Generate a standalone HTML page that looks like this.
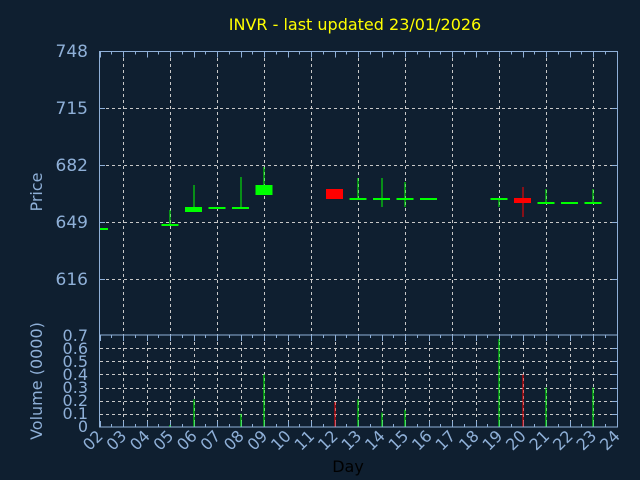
<!DOCTYPE html>
<html><head><meta charset="utf-8"><style>
html,body{margin:0;padding:0;background:#0f1f30;}
svg{display:block;font-family:"DejaVu Sans","Liberation Sans",sans-serif;}
</style></head><body>
<svg id="s" width="640" height="480" viewBox="0 0 640 480" xmlns="http://www.w3.org/2000/svg">
<rect width="640" height="480" fill="#0f1f30"/>
<g id="grid" stroke="#c8c8c8" stroke-width="1" stroke-dasharray="3,3" fill="none"></g>
<g id="ticks" stroke="#8fb0d8" stroke-width="1" fill="none"></g>
<g id="data"></g>
<rect x="99.5" y="51.5" width="518" height="283.5" fill="none" stroke="#8fb0d8"/>
<rect x="99.5" y="335" width="518" height="92" fill="none" stroke="#8fb0d8"/>
<text x="355" y="30" fill="#ffff00" font-size="16" text-anchor="middle">INVR - last updated 23/01/2026</text>
<g fill="#8fb0d8" font-size="17" text-anchor="end">
<text x="88" y="57">748</text><text x="88" y="114">715</text><text x="88" y="171">682</text><text x="88" y="228">649</text><text x="88" y="285">616</text>
</g>
<g fill="#8fb0d8" font-size="16" text-anchor="end">
<text x="88" y="341">0.7</text><text x="88" y="354">0.6</text><text x="88" y="367">0.5</text><text x="88" y="380">0.4</text><text x="88" y="393">0.3</text><text x="88" y="406">0.2</text><text x="88" y="419">0.1</text><text x="88" y="432">0</text>
</g>
<text transform="translate(42,192) rotate(-90)" fill="#8fb0d8" font-size="16" text-anchor="middle">Price</text>
<text transform="translate(42,381) rotate(-90)" fill="#8fb0d8" font-size="16" text-anchor="middle">Volume (0000)</text>
<g fill="#8fb0d8" font-size="16" text-anchor="end">
<text transform="translate(104,437) rotate(-45)">02</text>
<text transform="translate(127.5,437) rotate(-45)">03</text>
<text transform="translate(151,437) rotate(-45)">04</text>
<text transform="translate(174.5,437) rotate(-45)">05</text>
<text transform="translate(198,437) rotate(-45)">06</text>
<text transform="translate(221.5,437) rotate(-45)">07</text>
<text transform="translate(245,437) rotate(-45)">08</text>
<text transform="translate(268.5,437) rotate(-45)">09</text>
<text transform="translate(292,437) rotate(-45)">10</text>
<text transform="translate(315.5,437) rotate(-45)">11</text>
<text transform="translate(339,437) rotate(-45)">12</text>
<text transform="translate(362.5,437) rotate(-45)">13</text>
<text transform="translate(386,437) rotate(-45)">14</text>
<text transform="translate(409.5,437) rotate(-45)">15</text>
<text transform="translate(433,437) rotate(-45)">16</text>
<text transform="translate(456.5,437) rotate(-45)">17</text>
<text transform="translate(480,437) rotate(-45)">18</text>
<text transform="translate(503.5,437) rotate(-45)">19</text>
<text transform="translate(527,437) rotate(-45)">20</text>
<text transform="translate(550.5,437) rotate(-45)">21</text>
<text transform="translate(574,437) rotate(-45)">22</text>
<text transform="translate(597.5,437) rotate(-45)">23</text>
<text transform="translate(621,437) rotate(-45)">24</text>
</g>
<text x="348" y="472" fill="#000000" font-size="16" text-anchor="middle">Day</text>
</svg>
<script>
(function(){
var NS="http://www.w3.org/2000/svg";
function el(p,t,a){var e=document.createElementNS(NS,t);for(var k in a)e.setAttribute(k,a[k]);p.appendChild(e);return e;}
var g=document.getElementById("grid"),tk=document.getElementById("ticks"),d=document.getElementById("data");
function X(day){return 99.5+(day-2)*23.5;}
[108,165,222,279].forEach(function(y){el(g,"line",{x1:100,x2:617,y1:y+0.5,y2:y+0.5});el(tk,"line",{x1:99.5,x2:105,y1:y+0.5,y2:y+0.5});el(tk,"line",{x1:612,x2:617.5,y1:y+0.5,y2:y+0.5});});
for(var dd=3;dd<=23;dd+=2){var x=Math.round(X(dd))+0.5;el(g,"line",{x1:x,x2:x,y1:52,y2:335});}
[348,361,374,388,401,414].forEach(function(y){el(g,"line",{x1:100,x2:617,y1:y+0.5,y2:y+0.5});el(tk,"line",{x1:612,x2:617.5,y1:y+0.5,y2:y+0.5});});
for(var dd=3;dd<=23;dd++){var x=Math.round(X(dd))+0.5;el(g,"line",{x1:x,x2:x,y1:336,y2:427});}
for(var i=0;i<=44;i++){var x=Math.round(99.5+i*11.75)+0.5;var L=(i%2==0)?6:3;
el(tk,"line",{x1:x,x2:x,y1:51.5,y2:51.5+L});el(tk,"line",{x1:x,x2:x,y1:335,y2:335+L});el(tk,"line",{x1:x,x2:x,y1:427,y2:427-L});}
var G="#00ff00",R="#ff0000";
var c=[[2,228,230,228,230,G],[5,224,226,210,226,G],[6,207,212,185,212,G],[7,207,209,207,209,G],[8,207,209,177,209,G],
[9,185,195,167,195,G],[12,189,199,189,199,R],[13,198,200,178,200,G],[14,198,200,178,207,G],[15,198,200,182,207,G],
[16,198,200,198,200,G],[19,198,200,198,207,G],[20,198,203,187,217,R],[21,202,204,189,204,G],[22,202,204,202,204,G],[23,202,204,189,204,G]];
c.forEach(function(a){var x=X(a[0]);var x0=Math.max(100,x-8.5),x1=Math.min(617,x+8.5);
el(d,"rect",{x:x0,y:a[1],width:x1-x0,height:a[2]-a[1],fill:a[5]});
el(d,"rect",{x:Math.round(x)-0.5,y:a[3],width:1,height:a[4]-a[3],fill:a[5]});});
var v=[[5,0.015,G],[6,0.21,G],[8,0.1,G],[9,0.4,G],[12,0.19,R],[13,0.21,G],[14,0.11,G],[15,0.13,G],[19,0.67,G],[20,0.4,R],[21,0.3,G],[23,0.3,G]];
v.forEach(function(a){var x=Math.round(X(a[0]))-0.5;var h=a[1]*131.4;el(d,"rect",{x:x,y:427-h,width:1,height:h,fill:a[2]});});
})();
</script>
</body></html>
